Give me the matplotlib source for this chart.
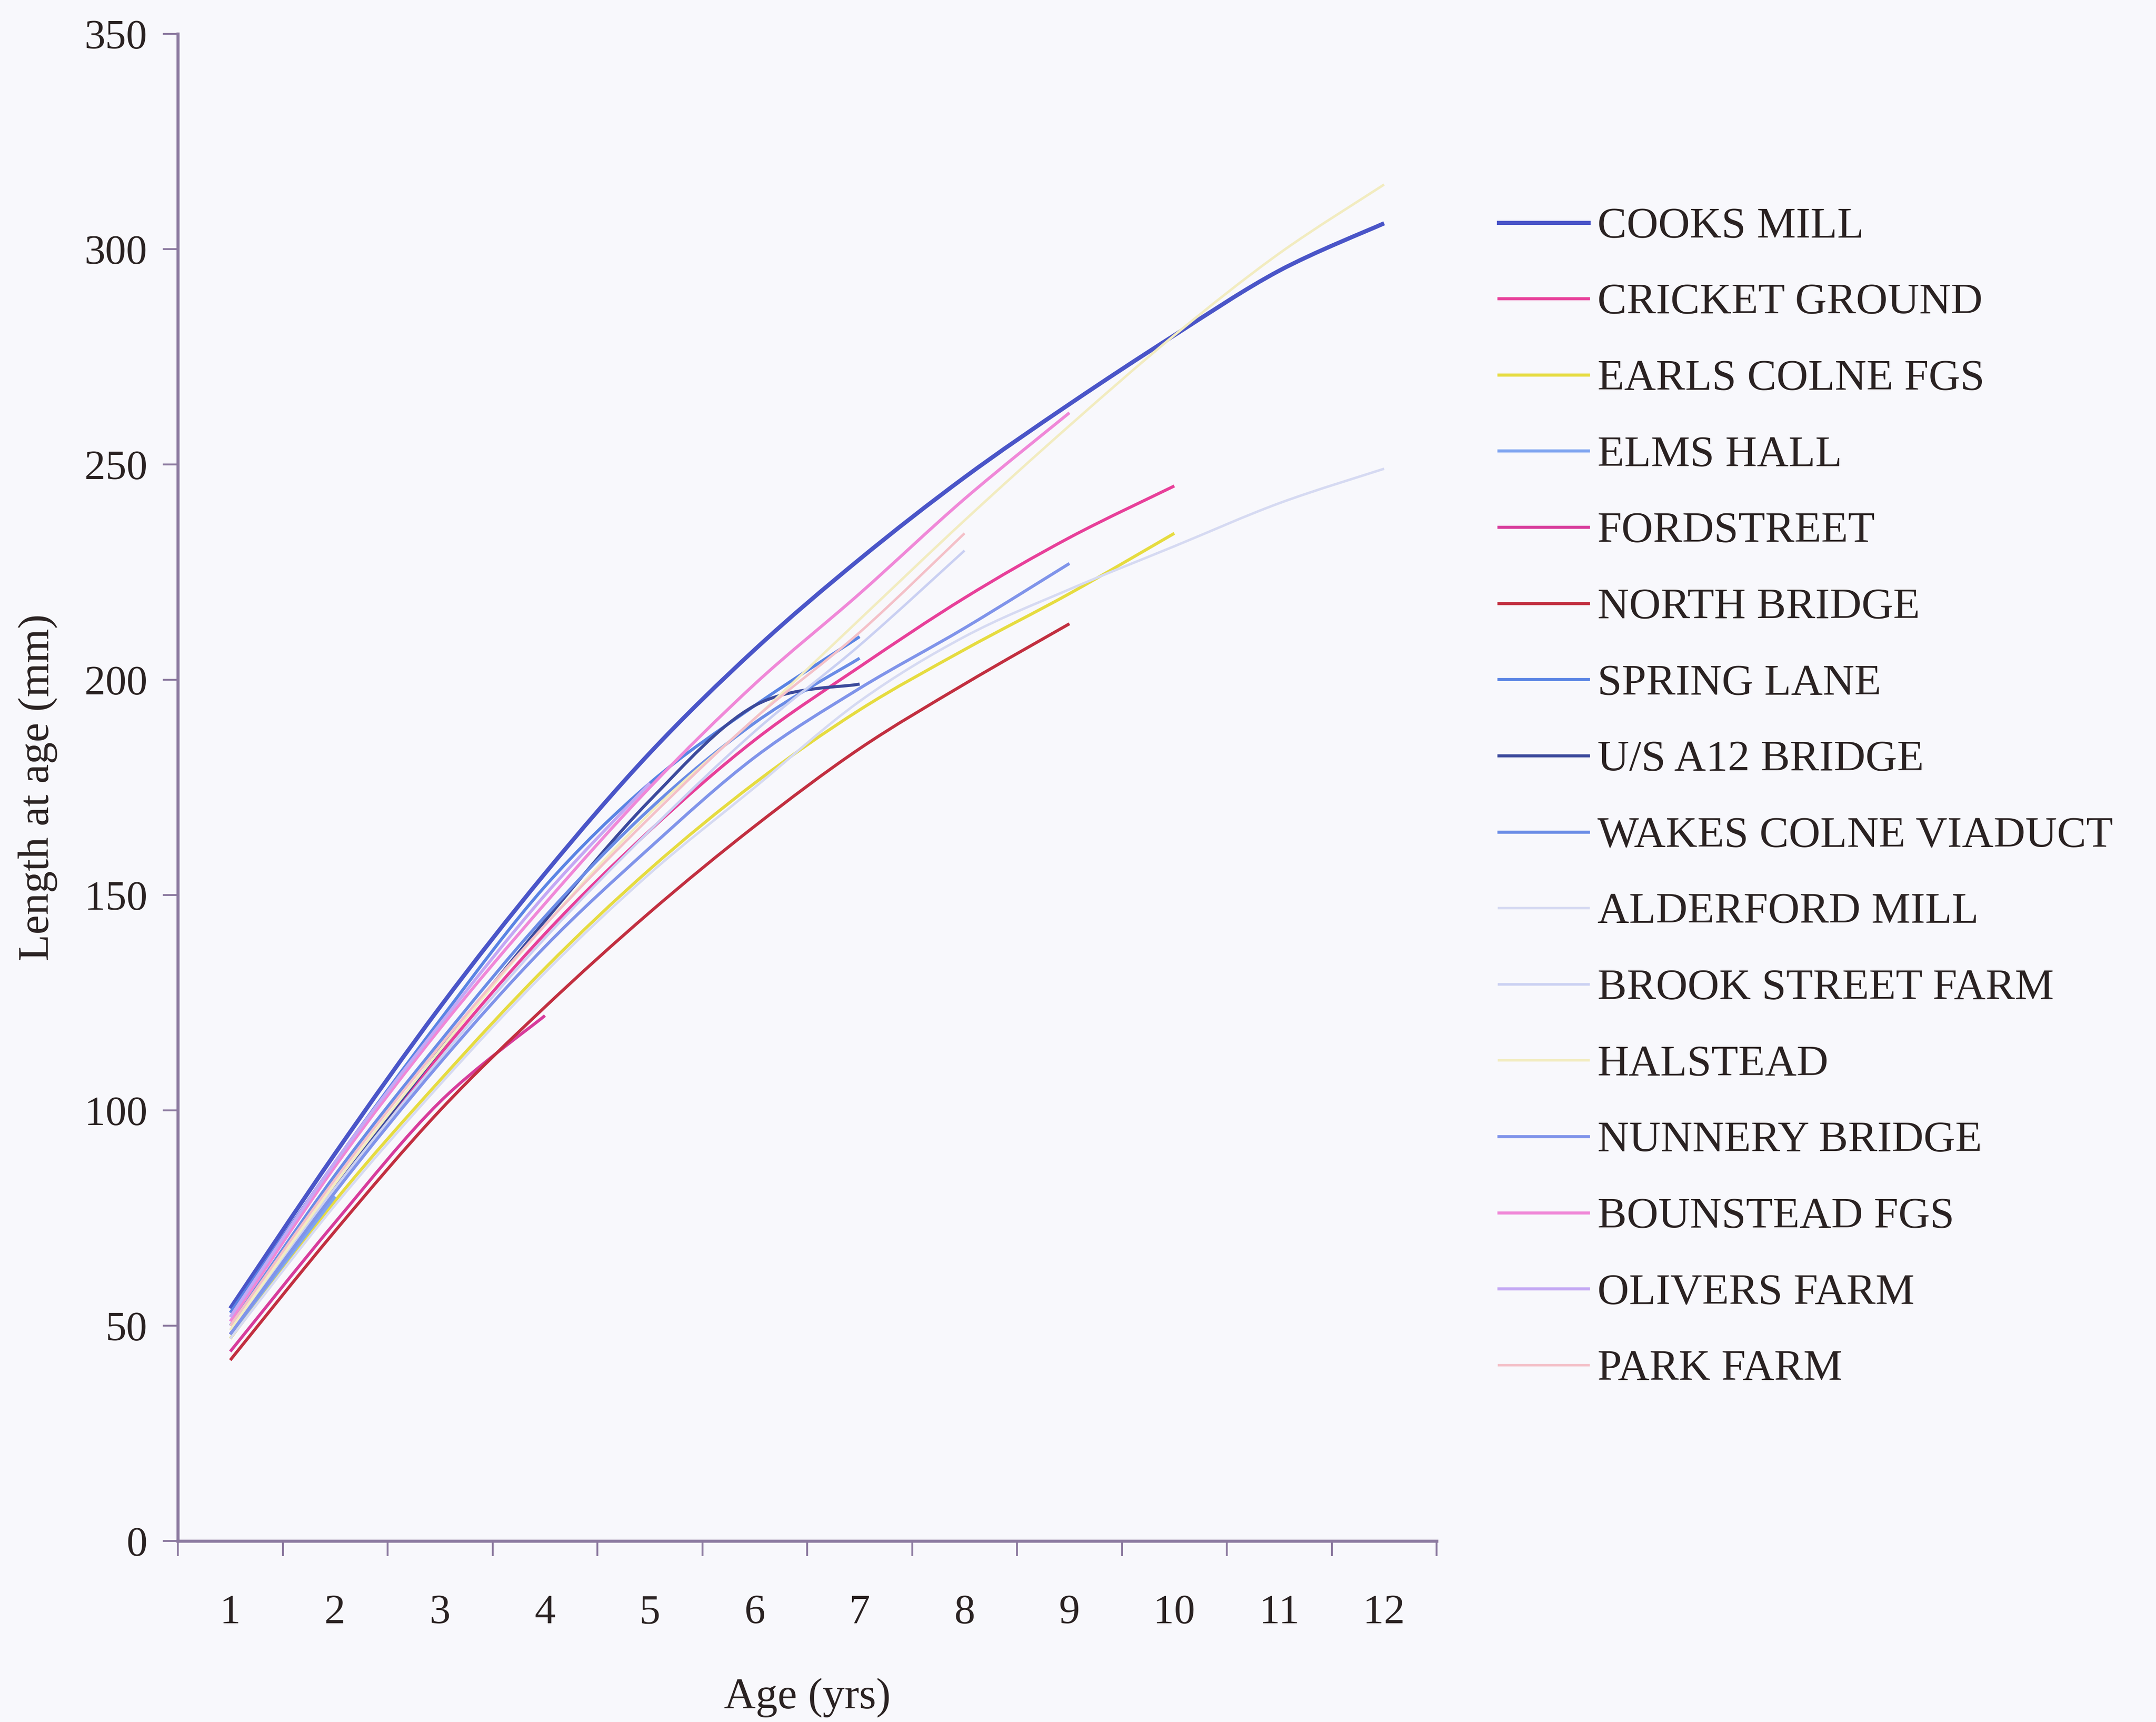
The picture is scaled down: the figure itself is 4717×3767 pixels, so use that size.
import matplotlib.pyplot as plt
from matplotlib.lines import Line2D
from matplotlib.patches import PathPatch
from matplotlib.path import Path
from matplotlib.ticker import FixedLocator, NullFormatter, NullLocator

# mean length at age (mm) for each site, from age 1 upwards
ages = list(range(1, 13))

cooks_mill = [54, 90, 124, 155, 183, 207, 228, 247, 264, 280, 295, 306]
cricket_ground = [48, 82, 113, 141, 165, 186, 203, 219, 233, 245]
earls_colne_fgs = [47, 79, 107, 133, 156, 176, 193, 207, 220, 234]
elms_hall = [48, 80]
fordstreet = [44, 74, 102, 122]
north_bridge = [42, 72, 100, 124, 146, 166, 184, 199, 213]
spring_lane = [53, 88, 121, 152, 176, 194, 210]
us_a12_bridge = [48, 82, 114, 144, 172, 194, 199]
wakes_colne_viaduct = [50, 85, 116, 145, 170, 190, 205]
alderford_mill = [47, 78, 106, 132, 155, 175, 195, 210, 221, 231, 241, 249]
brook_street_farm = [49, 82, 112, 140, 165, 188, 208, 230]
halstead = [49, 83, 114, 143, 169, 191, 214, 237, 259, 280, 299, 315]
nunnery_bridge = [48, 81, 111, 138, 161, 182, 198, 212, 227]
bounstead_fgs = [51, 87, 119, 148, 175, 199, 220, 242, 262]
olivers_farm = [52, 88, 120, 150, 176]
park_farm = [50, 84, 115, 143, 168, 191, 211, 234]

series = [
    ("COOKS MILL", cooks_mill),
    ("CRICKET GROUND", cricket_ground),
    ("EARLS COLNE FGS", earls_colne_fgs),
    ("ELMS HALL", elms_hall),
    ("FORDSTREET", fordstreet),
    ("NORTH BRIDGE", north_bridge),
    ("SPRING LANE", spring_lane),
    ("U/S A12 BRIDGE", us_a12_bridge),
    ("WAKES COLNE VIADUCT", wakes_colne_viaduct),
    ("ALDERFORD MILL", alderford_mill),
    ("BROOK STREET FARM", brook_street_farm),
    ("HALSTEAD", halstead),
    ("NUNNERY BRIDGE", nunnery_bridge),
    ("BOUNSTEAD FGS", bounstead_fgs),
    ("OLIVERS FARM", olivers_farm),
    ("PARK FARM", park_farm),
]

colors = {
    "COOKS MILL": "#4a55c8",
    "CRICKET GROUND": "#e8409a",
    "EARLS COLNE FGS": "#e6dc40",
    "ELMS HALL": "#7ea4f0",
    "FORDSTREET": "#d83c9c",
    "NORTH BRIDGE": "#c22f40",
    "SPRING LANE": "#5a84e4",
    "U/S A12 BRIDGE": "#3c4a9c",
    "WAKES COLNE VIADUCT": "#6a8ce6",
    "ALDERFORD MILL": "#d6daf2",
    "BROOK STREET FARM": "#cad0f2",
    "HALSTEAD": "#f2ecc0",
    "NUNNERY BRIDGE": "#8094ea",
    "BOUNSTEAD FGS": "#f088d8",
    "OLIVERS FARM": "#c4a8f4",
    "PARK FARM": "#f4c0c8",
}
widths = {"COOKS MILL": 2.2}
pale = {"ALDERFORD MILL", "BROOK STREET FARM", "HALSTEAD", "PARK FARM"}

bg = "#f8f8fc"
axis_col = "#8c7aa0"
text_col = "#2a2222"


def smooth_path(xs, ys):
    # smoothed line (bezier through every point, like a spreadsheet "smoothed line")
    pts = list(zip(xs, ys))
    verts = [pts[0]]
    codes = [Path.MOVETO]
    n = len(pts)
    for i in range(n - 1):
        p0 = pts[i - 1] if i > 0 else pts[i]
        p1 = pts[i]
        p2 = pts[i + 1]
        p3 = pts[i + 2] if i + 2 < n else pts[i + 1]
        c1 = (p1[0] + (p2[0] - p0[0]) / 6, p1[1] + (p2[1] - p0[1]) / 6)
        c2 = (p2[0] - (p3[0] - p1[0]) / 6, p2[1] - (p3[1] - p1[1]) / 6)
        verts += [c1, c2, p2]
        codes += [Path.CURVE4] * 3
    return Path(verts, codes)


plt.rcParams['font.family'] = ['Liberation Serif', 'DejaVu Serif']

W, H = 4717, 3767
fig = plt.figure(figsize=(W / 300, H / 300), dpi=300, facecolor=bg)
ax = fig.add_axes([389 / W, 1 - 3371 / H, (3143 - 389) / W, (3371 - 74) / H])
ax.set_facecolor(bg)

handles = []
for name, vals in series:
    lw = widths.get(name, 1.3 if name in pale else 1.6)
    path = smooth_path(ages[:len(vals)], vals)
    ax.add_patch(PathPatch(path, fill=False, edgecolor=colors[name], lw=lw,
                           capstyle='butt', joinstyle='round'))
    handles.append(Line2D([], [], color=colors[name], lw=lw, label=name))

ax.set_xlim(0.5, 12.5)
ax.set_ylim(0, 350)

# category style x axis: labels in the middle, tick marks between categories
ax.xaxis.set_major_locator(FixedLocator(ages))
ax.xaxis.set_minor_locator(FixedLocator([a + 0.5 for a in range(0, 13)]))
ax.xaxis.set_minor_formatter(NullFormatter())
ax.tick_params(axis='x', which='major', length=0, pad=28, labelsize=22, labelcolor=text_col)
ax.tick_params(axis='x', which='minor', length=8, width=1.0, color=axis_col, direction='out')

ax.set_yticks(range(0, 351, 50))
ax.yaxis.set_minor_locator(NullLocator())
ax.tick_params(axis='y', length=8, width=1.0, color=axis_col, direction='out', pad=8,
               labelsize=22, labelcolor=text_col)

for side in ['top', 'right']:
    ax.spines[side].set_visible(False)
for side in ['left', 'bottom']:
    ax.spines[side].set_color(axis_col)
    ax.spines[side].set_linewidth(1.6)

ax.set_xlabel('Age (yrs)', fontsize=23, color=text_col, labelpad=24)
ax.set_ylabel('Length at age (mm)', fontsize=23, color=text_col, labelpad=14)

leg = ax.legend(handles=handles, loc='upper left', bbox_to_anchor=(3279 / W, 1 - 453 / H),
                bbox_transform=fig.transFigure, frameon=False, fontsize=23,
                handlelength=2.05, handletextpad=0.2, labelspacing=0.83,
                borderpad=0, borderaxespad=0)
for t in leg.get_texts():
    t.set_color(text_col)

fig.savefig('out.png', dpi=300, facecolor=bg)
